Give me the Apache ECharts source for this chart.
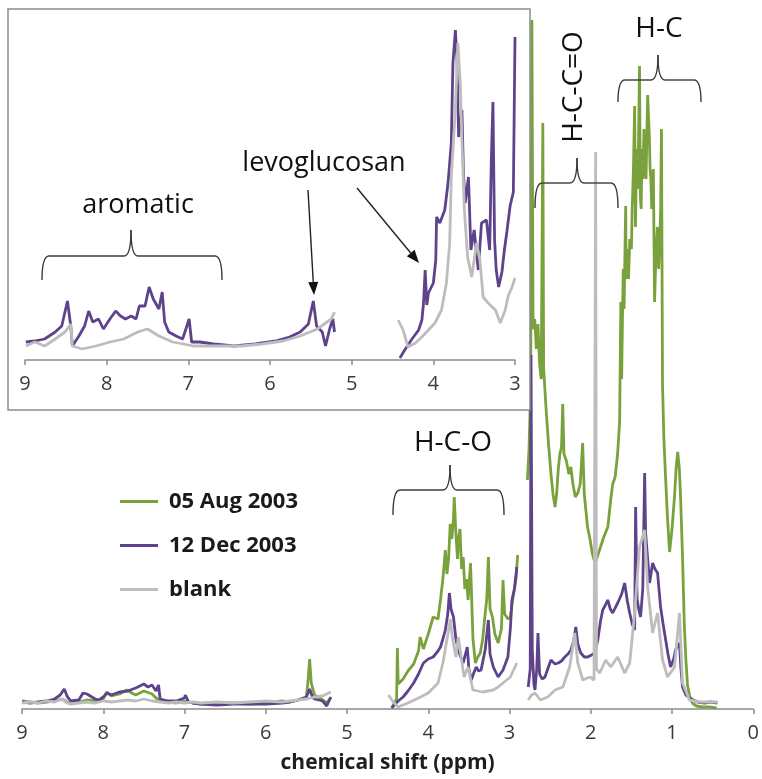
<!DOCTYPE html>
<html>
<head>
<meta charset="utf-8">
<script src="https://cdn.jsdelivr.net/npm/echarts@6/dist/echarts.min.js"></script>
<style>html,body{margin:0;padding:0;background:#fff}#c{width:762px;height:779px}</style>
</head>
<body>
<div id="c"></div>
<script>
// ---- data: [chemical shift (ppm), relative intensity] ----
const seriesNames = ['05 Aug 2003', '12 Dec 2003', 'blank'];

const augMain = [
  [9.0,8],[8.9,7],[8.8,6],[8.7,7],[8.6,8],[8.5,10],[8.45,7],[8.4,5],[8.3,7],[8.2,9],[8.1,8],[8.0,10],[7.96,17],[7.9,13],[7.8,15],[7.71,19],[7.65,16],[7.6,14],[7.5,18],[7.4,15],[7.35,11],[7.3,8],[7.2,7],[7.1,6],[7.0,8],[6.9,6],[6.8,5],[6.6,5],[6.4,6],[6.2,5],[6.0,6],[5.8,8],[5.7,7],[5.6,9],[5.5,12],[5.48,28],[5.46,50],[5.44,26],[5.4,14],[5.35,12],[5.3,9],[5.25,6],[5.2,11],
  [5.0,null],
  [4.45,1],[4.43,2],[4.39,10],[4.38,61],[4.37,25],[4.31,30],[4.25,38],[4.18,45],[4.12,58],[4.10,72],[4.06,60],[4.0,75],[3.94,92],[3.88,90],[3.85,109],[3.82,130],[3.79,159],[3.77,135],[3.75,150],[3.73,185],[3.71,170],[3.69,190],[3.68,212],[3.66,175],[3.64,150],[3.63,169],[3.61,180],[3.59,140],[3.57,152],[3.55,120],[3.53,130],[3.51,109],[3.48,146],[3.46,95],[3.45,70],[3.42,46],[3.39,52],[3.36,56],[3.33,70],[3.30,95],[3.28,110],[3.26,152],[3.24,100],[3.21,92],[3.20,86],[3.18,75],[3.14,66],[3.10,80],[3.08,129],[3.06,95],[3.02,90],[2.99,92],[2.96,110],[2.92,130],[2.90,154],
  [2.84,null],
  [2.78,229],[2.76,260],[2.74,320],[2.725,689],[2.71,380],[2.69,390],[2.67,360],[2.65,385],[2.63,345],[2.61,330],[2.59,586],[2.58,340],[2.55,300],[2.52,265],[2.49,235],[2.465,215],[2.44,202],[2.42,215],[2.40,240],[2.38,255],[2.36,262],[2.345,305],[2.33,255],[2.30,248],[2.27,235],[2.245,242],[2.22,225],[2.19,212],[2.16,216],[2.13,225],[2.10,266],[2.08,215],[2.04,182],[2.01,170],[1.98,155],[1.95,146],[1.94,148],[1.92,152],[1.88,162],[1.84,172],[1.79,182],[1.755,209],[1.73,225],[1.70,232],[1.67,255],[1.645,287],[1.63,407],[1.62,330],[1.61,391],[1.60,440],[1.59,400],[1.575,480],[1.57,503],[1.565,430],[1.55,460],[1.535,430],[1.52,470],[1.50,460],[1.49,500],[1.475,540],[1.46,603],[1.45,482],[1.435,560],[1.42,520],[1.40,643],[1.39,512],[1.38,500],[1.37,560],[1.36,530],[1.345,580],[1.34,545],[1.32,530],[1.30,614],[1.28,574],[1.27,540],[1.26,530],[1.25,500],[1.24,524],[1.23,540],[1.215,407],[1.20,450],[1.18,482],[1.165,440],[1.15,470],[1.14,500],[1.13,580],[1.117,324],[1.10,270],[1.08,232],[1.055,190],[1.03,157],[1.00,180],[0.97,212],[0.95,240],[0.93,257],[0.91,240],[0.895,212],[0.87,150],[0.85,87],[0.83,50],[0.81,24],[0.78,12],[0.75,6],[0.70,3],[0.63,2],[0.55,2],[0.45,1]
];

const decMain = [
  [9.0,7],[8.9,6],[8.8,7],[8.7,8],[8.6,10],[8.53,14],[8.48,20],[8.44,12],[8.4,8],[8.3,9],[8.25,16],[8.2,15],[8.1,10],[8.05,9],[8.0,12],[7.95,16],[7.9,14],[7.8,17],[7.7,18],[7.6,21],[7.5,25],[7.45,22],[7.4,24],[7.35,18],[7.32,24],[7.3,10],[7.2,8],[7.1,8],[7.0,11],[6.99,14],[6.95,7],[6.9,6],[6.8,5],[6.6,4],[6.4,5],[6.2,5],[6.0,5],[5.8,6],[5.7,7],[5.6,9],[5.5,12],[5.46,20],[5.43,13],[5.4,10],[5.3,8],[5.25,3],[5.2,12],
  [5.0,null],
  [4.45,1],[4.43,2],[4.37,8],[4.31,12],[4.25,18],[4.18,26],[4.12,35],[4.06,46],[4.0,50],[3.94,52],[3.88,58],[3.85,62],[3.82,70],[3.79,79],[3.76,95],[3.74,116],[3.72,100],[3.69,92],[3.66,70],[3.63,59],[3.60,52],[3.57,46],[3.52,62],[3.50,40],[3.47,29],[3.44,36],[3.41,42],[3.38,38],[3.35,39],[3.30,59],[3.26,89],[3.24,55],[3.20,42],[3.14,32],[3.08,39],[3.02,52],[2.99,80],[2.97,109],[2.94,120],[2.91,142],
  [2.84,null],
  [2.77,22],[2.745,40],[2.736,354],[2.72,60],[2.70,25],[2.687,19],[2.665,40],[2.65,76],[2.63,35],[2.60,30],[2.564,32],[2.53,40],[2.49,49],[2.44,45],[2.40,46],[2.36,48],[2.32,52],[2.28,55],[2.245,59],[2.21,68],[2.184,82],[2.16,65],[2.123,56],[2.08,52],[2.037,52],[1.99,54],[1.951,56],[1.94,60],[1.914,69],[1.88,88],[1.853,99],[1.82,104],[1.791,109],[1.76,100],[1.73,96],[1.70,101],[1.669,106],[1.62,115],[1.583,126],[1.55,108],[1.521,96],[1.49,85],[1.46,79],[1.448,202],[1.43,110],[1.41,100],[1.387,92],[1.36,120],[1.337,236],[1.325,176],[1.30,150],[1.276,126],[1.239,146],[1.21,140],[1.178,136],[1.141,102],[1.11,85],[1.092,76],[1.05,55],[1.018,42],[0.98,50],[0.957,59],[0.908,66],[0.89,40],[0.871,22],[0.83,14],[0.785,11],[0.687,7],[0.6,6],[0.528,7],[0.442,6]
];

const blankMain = [
  [9.0,6],[8.9,7],[8.8,6],[8.7,8],[8.6,7],[8.5,10],[8.45,6],[8.4,5],[8.3,6],[8.2,7],[8.1,6],[8.0,8],[7.9,7],[7.8,8],[7.7,9],[7.6,8],[7.5,10],[7.4,8],[7.3,7],[7.2,6],[7.1,7],[7.0,6],[6.9,7],[6.8,6],[6.6,7],[6.4,6],[6.2,7],[6.0,8],[5.8,7],[5.6,9],[5.5,10],[5.4,12],[5.3,13],[5.25,15],[5.2,17],
  [5.0,null],
  [4.49,14],[4.43,7],[4.37,2],[4.25,6],[4.12,11],[4.0,16],[3.88,26],[3.82,46],[3.75,79],[3.73,90],[3.70,70],[3.66,52],[3.63,72],[3.56,32],[3.51,42],[3.45,19],[3.33,17],[3.20,19],[3.14,22],[3.08,26],[2.99,32],[2.91,46],
  [2.84,null],
  [2.77,9],[2.73,14],[2.687,16],[2.62,9],[2.53,12],[2.44,19],[2.344,22],[2.26,42],[2.196,76],[2.16,46],[2.098,29],[2.01,32],[1.96,29],[1.94,557],[1.93,40],[1.89,36],[1.816,49],[1.755,42],[1.669,52],[1.583,36],[1.521,46],[1.46,96],[1.40,162],[1.337,179],[1.30,122],[1.239,76],[1.178,96],[1.117,49],[1.055,32],[0.969,42],[0.908,96],[0.871,26],[0.785,9],[0.65,7],[0.44,7]
];

const decInset = [
  [8.99,18],[8.88,19],[8.76,21],[8.63,28],[8.55,34],[8.48,59],[8.44,34],[8.42,14],[8.34,24],[8.27,34],[8.22,49],[8.17,38],[8.10,41],[8.04,31],[8.00,36],[7.96,41],[7.89,49],[7.83,44],[7.77,41],[7.70,44],[7.64,41],[7.60,54],[7.53,54],[7.48,73],[7.43,61],[7.36,51],[7.32,68],[7.29,38],[7.24,28],[7.15,24],[7.07,21],[6.99,41],[6.96,18],[6.86,18],[6.69,16],[6.44,14],[6.18,16],[5.93,19],[5.76,23],[5.63,28],[5.53,36],[5.47,59],[5.43,34],[5.36,28],[5.32,14],[5.27,31],[5.23,41],[5.21,28],
  [5.0,null],
  [4.41,2],[4.35,10],[4.27,20],[4.18,30],[4.14,40],[4.12,57],[4.10,90],[4.08,55],[4.06,67],[4.00,77],[3.97,100],[3.96,143],[3.92,137],[3.86,150],[3.82,177],[3.78,217],[3.76,297],[3.73,330],[3.71,300],[3.69,223],[3.65,250],[3.63,184],[3.61,157],[3.57,183],[3.54,110],[3.50,130],[3.45,90],[3.41,137],[3.35,140],[3.31,110],[3.29,200],[3.27,258],[3.25,120],[3.23,90],[3.20,73],[3.16,88],[3.13,110],[3.10,128],[3.06,154],[3.02,168],[3.005,170],[3.0,323]
];

const blankInset = [
  [8.99,14],[8.88,18],[8.76,14],[8.63,21],[8.51,28],[8.44,36],[8.42,14],[8.30,11],[8.13,14],[7.96,18],[7.79,21],[7.62,28],[7.50,31],[7.36,24],[7.19,18],[6.94,14],[6.60,14],[6.35,14],[6.10,16],[5.84,19],[5.63,24],[5.42,31],[5.25,41],[5.21,48],
  [5.0,null],
  [4.43,40],[4.37,30],[4.31,13],[4.22,17],[4.14,23],[4.06,30],[3.98,37],[3.90,50],[3.84,77],[3.80,117],[3.78,183],[3.73,250],[3.70,317],[3.67,277],[3.65,220],[3.62,150],[3.58,103],[3.53,83],[3.47,117],[3.43,100],[3.39,63],[3.33,57],[3.24,50],[3.18,37],[3.12,50],[3.08,65],[3.04,72],[3.0,82]
];

const colors = { green: '#7aa23c', purple: '#5e438c', gray: '#bdbdbd' };
const FONT = '"Open Sans", "DejaVu Sans", sans-serif';

function line(name, data, color, idx, zl) {
  return {
    name: name, type: 'line', data: data, xAxisIndex: idx, yAxisIndex: idx,
    showSymbol: false, symbol: 'none', connectNulls: false, smooth: false,
    lineStyle: { color: color, width: 2.8, join: 'bevel' }, itemStyle: { color: color },
    zlevel: zl, z: 10, silent: true, animation: false
  };
}

const strokeStyle = { stroke: '#3a3a3a', lineWidth: 1.4, fill: null };
function braceEls(x1, x2, xc, yb, yEnd, yCusp, zl) {
  const r = 7;
  const base = { zlevel: zl, z: 100, silent: true };
  return [
    Object.assign({ type: 'bezierCurve', shape: { x1: x1, y1: yEnd, cpx1: x1, cpy1: yb, x2: x1 + r, y2: yb }, style: strokeStyle }, base),
    Object.assign({ type: 'line', shape: { x1: x1 + r, y1: yb, x2: xc - r, y2: yb }, style: strokeStyle }, base),
    Object.assign({ type: 'bezierCurve', shape: { x1: xc - r, y1: yb, cpx1: xc, cpy1: yb, x2: xc, y2: yCusp }, style: strokeStyle }, base),
    Object.assign({ type: 'bezierCurve', shape: { x1: xc, y1: yCusp, cpx1: xc, cpy1: yb, x2: xc + r, y2: yb }, style: strokeStyle }, base),
    Object.assign({ type: 'line', shape: { x1: xc + r, y1: yb, x2: x2 - r, y2: yb }, style: strokeStyle }, base),
    Object.assign({ type: 'bezierCurve', shape: { x1: x2 - r, y1: yb, cpx1: x2, cpy1: yb, x2: x2, y2: yEnd }, style: strokeStyle }, base)
  ];
}
function textEl(t, x, y, size, zl, rot) {
  return { type: 'text', x: x, y: y, rotation: rot || 0, style: { text: t, font: size + 'px ' + FONT, fill: '#111', align: 'center', verticalAlign: 'middle' }, zlevel: zl, z: 100, silent: true };
}
function arrowEls(x1, y1, x2, y2, zl) {
  const ang = Math.atan2(y2 - y1, x2 - x1), L = 13, W = 5;
  const bx = x2 - L * Math.cos(ang), by = y2 - L * Math.sin(ang);
  const px = -Math.sin(ang) * W, py = Math.cos(ang) * W;
  return [
    { type: 'line', shape: { x1: x1, y1: y1, x2: bx, y2: by }, style: { stroke: '#222', lineWidth: 1.4 }, zlevel: zl, z: 100, silent: true },
    { type: 'polygon', shape: { points: [[x2, y2], [bx + px, by + py], [bx - px, by - py]] }, style: { fill: '#111' }, zlevel: zl, z: 100, silent: true }
  ];
}

const axisColor = '#8c8c8c';
function xAxisCfg(idx, min, max, margin, extra) {
  return Object.assign({
    type: 'value', gridIndex: idx, min: min, max: max, interval: 1, inverse: true,
    axisLine: { show: true, onZero: false, lineStyle: { color: axisColor, width: 1.5 } },
    axisTick: { show: true, length: 5, lineStyle: { color: axisColor, width: 1.5 } },
    axisLabel: { fontSize: 20, color: '#3a3a3a', margin: margin, fontFamily: FONT },
    splitLine: { show: false }, zlevel: idx, z: 20
  }, extra || {});
}

const elements = [
  { type: 'rect', shape: { x: 8, y: 9, width: 522, height: 401 }, style: { fill: '#fff', stroke: '#8c8c8c', lineWidth: 1.5 }, zlevel: 1, z: 0, silent: true },
  textEl('H-C-O', 453, 443, 28, 0),
  textEl('H-C', 659, 29, 28, 0),
  textEl('H-C-C=O', 574, 87, 28, 0, Math.PI / 2),
  textEl('aromatic', 138, 205, 27, 1),
  textEl('levoglucosan', 324, 163, 27, 1)
].concat(
  braceEls(393, 504, 450, 490, 515, 465, 0),
  braceEls(535, 618, 577, 183, 208, 158, 0),
  braceEls(618, 701, 658, 80, 102, 55, 0),
  braceEls(42, 222, 131, 256, 280, 230, 1),
  arrowEls(308, 190, 314, 295, 1),
  arrowEls(357, 188, 419, 263, 1)
);

const chart = echarts.init(document.getElementById('c'), null, { renderer: 'canvas' });
chart.setOption({
  animation: false,
  backgroundColor: '#fff',
  grid: [
    { left: 22, right: 6, top: 9, bottom: 70 },
    { left: 25, right: 247, top: 10, bottom: 419, zlevel: 1, z: 5 }
  ],
  xAxis: [
    xAxisCfg(0, 0, 9, 14, { name: 'chemical shift (ppm)', nameLocation: 'middle', nameGap: 44,
      nameTextStyle: { fontSize: 21, fontWeight: 'bold', color: '#1e1e1e', fontFamily: FONT } }),
    xAxisCfg(1, 3, 9, 14)
  ],
  yAxis: [
    { type: 'value', gridIndex: 0, min: 0, max: 700, show: false },
    { type: 'value', gridIndex: 1, min: 0, max: 350, show: false }
  ],
  legend: {
    data: seriesNames, orient: 'vertical', left: 115, top: 485,
    itemWidth: 38, itemHeight: 3, itemGap: 21, icon: 'rect', selectedMode: false,
    textStyle: { fontSize: 22, fontWeight: 'bold', color: '#1a1a1a', fontFamily: FONT, lineHeight: 23, padding: [0, 0, 0, 6] }
  },
  series: [
    line(seriesNames[0], augMain, colors.green, 0, 0),
    line(seriesNames[1], decMain, colors.purple, 0, 0),
    line(seriesNames[2], blankMain, colors.gray, 0, 0),
    line(seriesNames[1], decInset, colors.purple, 1, 1),
    line(seriesNames[2], blankInset, colors.gray, 1, 1)
  ],
  graphic: { elements: elements }
});
</script>
</body>
</html>
